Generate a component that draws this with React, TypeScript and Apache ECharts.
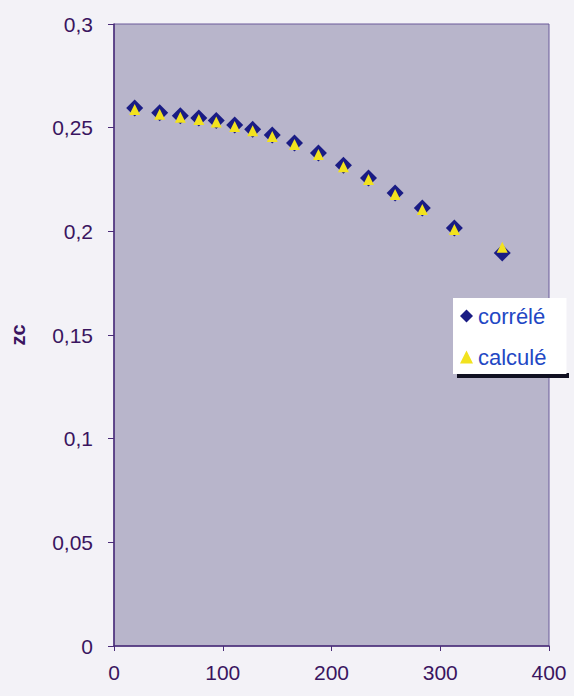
import React, { useEffect, useRef } from "react";
import * as echarts from "echarts";

const temperatures = [19, 42, 61, 78, 94, 111, 127.5, 145.5, 166, 188, 211, 234, 258.5, 283.5, 313, 357];
const zcCorrele = [0.2595, 0.2572, 0.2558, 0.2547, 0.2534, 0.2513, 0.2492, 0.2465, 0.2426, 0.2378, 0.2319, 0.2257, 0.2185, 0.2113, 0.2016, 0.1896];
const zcCalcule = [0.2595, 0.2572, 0.2558, 0.2547, 0.2534, 0.2513, 0.2492, 0.2465, 0.2426, 0.2378, 0.2319, 0.2257, 0.2185, 0.2113, 0.2016, 0.193];
const seriesNames = ["corrélé", "calculé"];
const yAxisTitle = "zc";

const FONT = "'Liberation Sans', Arial, sans-serif";
const AXIS_COLOR = "#4a2c78";
const LABEL_COLOR = "#3a1560";

export default function App() {
  const ref = useRef<HTMLDivElement>(null);
  useEffect(() => {
    if (!ref.current) return;
    const chart = echarts.init(ref.current, undefined, { renderer: "svg" });
    chart.setOption({
      animation: false,
      backgroundColor: "#f3f2f7",
      textStyle: { fontFamily: FONT },
      grid: {
        left: 113,
        right: 25,
        top: 24,
        bottom: 50,
        show: true,
        backgroundColor: "#b8b5cb",
        borderColor: "#6a5a9a",
        borderWidth: 1,
      },
      xAxis: {
        type: "value",
        min: 0,
        max: 400,
        interval: 100,
        splitLine: { show: false },
        axisLine: { show: true, lineStyle: { color: AXIS_COLOR, width: 1.5 } },
        axisTick: { show: true, length: 5, lineStyle: { color: AXIS_COLOR } },
        axisLabel: { color: LABEL_COLOR, fontSize: 21, margin: 16, fontFamily: FONT },
      },
      yAxis: {
        type: "value",
        min: 0,
        max: 0.3,
        interval: 0.05,
        name: yAxisTitle,
        nameLocation: "middle",
        nameGap: 86,
        nameRotate: 90,
        nameTextStyle: { color: LABEL_COLOR, fontSize: 20, fontWeight: "bold", fontFamily: FONT },
        splitLine: { show: false },
        axisLine: { show: true, lineStyle: { color: AXIS_COLOR, width: 1.5 } },
        axisTick: { show: true, length: 6, lineStyle: { color: AXIS_COLOR } },
        axisLabel: {
          color: LABEL_COLOR,
          fontSize: 21,
          margin: 21,
          fontFamily: FONT,
          formatter: (v: number) => String(Math.round(v * 100) / 100).replace(".", ","),
        },
      },
      legend: {
        orient: "vertical",
        left: 453,
        top: 298,
        padding: [7, 20, 6, 7],
        itemGap: 19,
        itemWidth: 13,
        itemHeight: 13,
        backgroundColor: "#ffffff",
        textStyle: { color: "#2247c4", fontSize: 22, fontFamily: FONT },
        data: [
          { name: seriesNames[0], icon: "diamond" },
          { name: seriesNames[1], icon: "triangle" },
        ],
      },
      graphic: [
        {
          type: "rect",
          left: 457,
          top: 373,
          shape: { width: 112, height: 5 },
          style: { fill: "#111122" },
        },
      ],
      series: [
        {
          name: seriesNames[0],
          type: "scatter",
          symbol: "diamond",
          symbolSize: 17,
          itemStyle: { color: "#1a1c84", opacity: 1 },
          data: temperatures.map((t, i) => [t, zcCorrele[i]]),
          z: 2,
        },
        {
          name: seriesNames[1],
          type: "scatter",
          symbol: "triangle",
          symbolSize: 11,
          symbolOffset: [0, 1.5],
          itemStyle: { color: "#f2e21e", opacity: 1 },
          data: temperatures.map((t, i) => [t, zcCalcule[i]]),
          z: 3,
        },
      ],
    });
    return () => chart.dispose();
  }, []);
  return (
    <div
      ref={ref}
      style={{ position: "absolute", left: 0, top: 0, width: 574, height: 696 }}
    />
  );
}
